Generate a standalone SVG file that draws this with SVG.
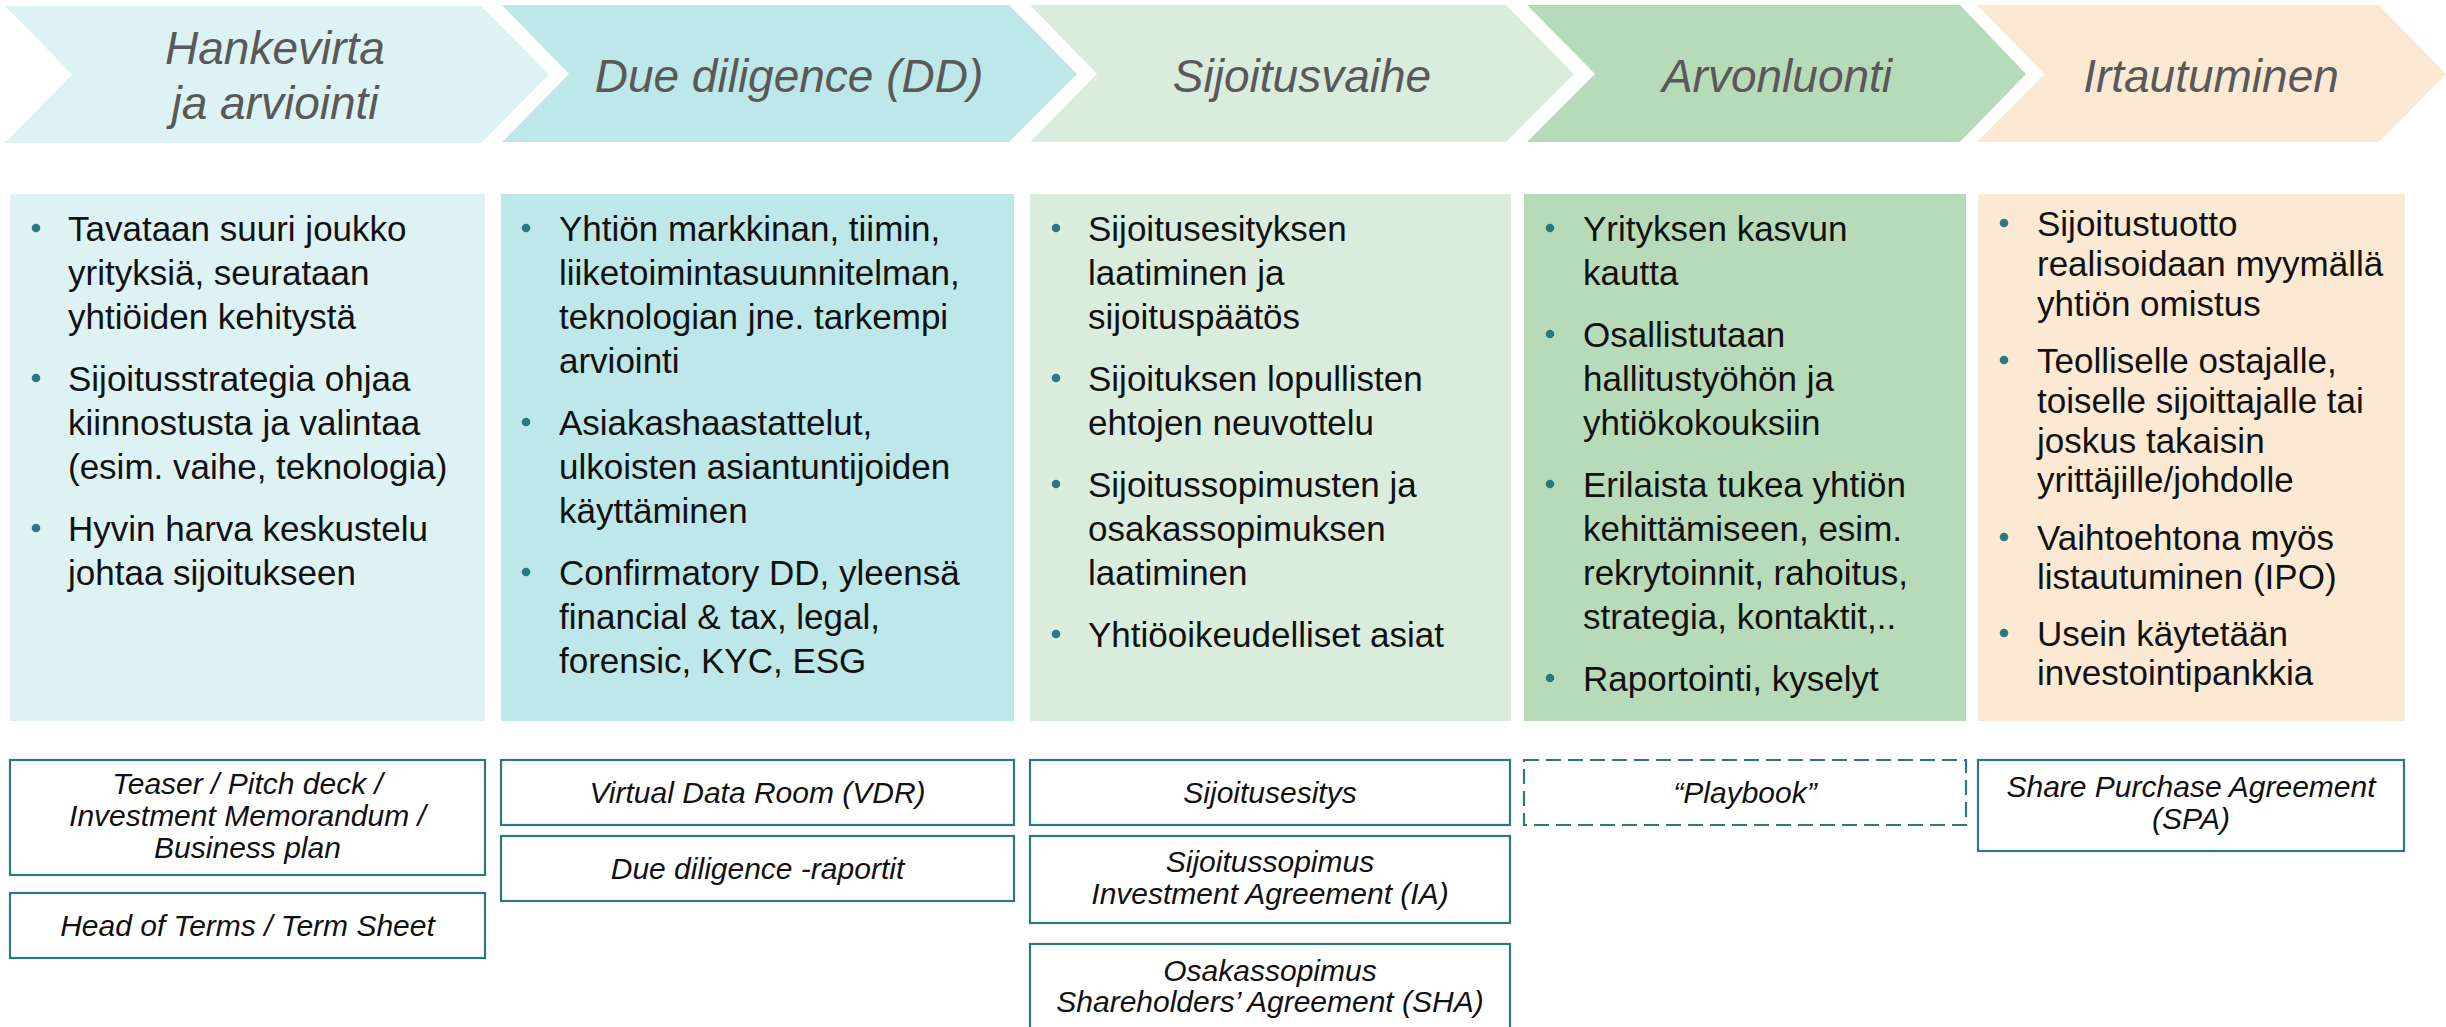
<svg xmlns="http://www.w3.org/2000/svg" width="2446" height="1027" viewBox="0 0 2446 1027">
<style>
.title{font-family:"Liberation Sans",Arial,sans-serif;font-style:italic;font-size:46px;fill:#595959;text-anchor:middle}
.body{font-family:"Liberation Sans",Arial,sans-serif;font-size:35px;fill:#111111}
.doc{font-family:"Liberation Sans",Arial,sans-serif;font-style:italic;font-size:30px;fill:#111111;text-anchor:middle}
.dbox{fill:#ffffff;stroke:#2B7883;stroke-width:2.2}
.dash{stroke-dasharray:15 7}
.dot{fill:#2B7883}
.c1{fill:#DDF2F3}.c2{fill:#BDE7E8}.c3{fill:#DAEDDC}.c4{fill:#B7DBB9}.c5{fill:#FCE9D4}
</style>
<rect x="0" y="0" width="2446" height="1027" fill="#ffffff"/>

<g id="phase1">
<path class="c1" d="M5,6 L481,6 L549,74.5 L481,143 L5,143 L72,74.5 Z"/>
<text class="title"><tspan x="275" y="64">Hankevirta</tspan><tspan x="275" y="119">ja arviointi</tspan></text>
<rect class="c1" x="10" y="194" width="475" height="527"/>
<g class="dot"><circle cx="36" cy="228" r="4.3"/><circle cx="36" cy="378" r="4.3"/><circle cx="36" cy="528" r="4.3"/></g>
<text class="body"><tspan x="68" y="241">Tavataan suuri joukko</tspan><tspan x="68" y="285">yrityksiä, seurataan</tspan><tspan x="68" y="329">yhtiöiden kehitystä</tspan><tspan x="68" y="391">Sijoitusstrategia ohjaa</tspan><tspan x="68" y="435">kiinnostusta ja valintaa</tspan><tspan x="68" y="479">(esim. vaihe, teknologia)</tspan><tspan x="68" y="541">Hyvin harva keskustelu</tspan><tspan x="68" y="585">johtaa sijoitukseen</tspan></text>
</g>

<g id="phase2">
<path class="c2" d="M502,5 L1009,5 L1077,74 L1009,142 L502,142 L569,74 Z"/>
<text class="title" x="789" y="92">Due diligence (DD)</text>
<rect class="c2" x="501" y="194" width="513" height="527"/>
<g class="dot"><circle cx="526" cy="228" r="4.3"/><circle cx="526" cy="422" r="4.3"/><circle cx="526" cy="572" r="4.3"/></g>
<text class="body"><tspan x="559" y="241">Yhtiön markkinan, tiimin,</tspan><tspan x="559" y="285">liiketoimintasuunnitelman,</tspan><tspan x="559" y="329">teknologian jne. tarkempi</tspan><tspan x="559" y="373">arviointi</tspan><tspan x="559" y="435">Asiakashaastattelut,</tspan><tspan x="559" y="479">ulkoisten asiantuntijoiden</tspan><tspan x="559" y="523">käyttäminen</tspan><tspan x="559" y="585">Confirmatory DD, yleensä</tspan><tspan x="559" y="629">financial &amp; tax, legal,</tspan><tspan x="559" y="673">forensic, KYC, ESG</tspan></text>
</g>

<g id="phase3">
<path class="c3" d="M1030,5 L1506,5 L1574,74 L1506,142 L1030,142 L1097,74 Z"/>
<text class="title" x="1302" y="92">Sijoitusvaihe</text>
<rect class="c3" x="1030" y="194" width="481" height="527"/>
<g class="dot"><circle cx="1056" cy="228" r="4.3"/><circle cx="1056" cy="378" r="4.3"/><circle cx="1056" cy="484" r="4.3"/><circle cx="1056" cy="634" r="4.3"/></g>
<text class="body"><tspan x="1088" y="241">Sijoitusesityksen</tspan><tspan x="1088" y="285">laatiminen ja</tspan><tspan x="1088" y="329">sijoituspäätös</tspan><tspan x="1088" y="391">Sijoituksen lopullisten</tspan><tspan x="1088" y="435">ehtojen neuvottelu</tspan><tspan x="1088" y="497">Sijoitussopimusten ja</tspan><tspan x="1088" y="541">osakassopimuksen</tspan><tspan x="1088" y="585">laatiminen</tspan><tspan x="1088" y="647">Yhtiöoikeudelliset asiat</tspan></text>
</g>

<g id="phase4">
<path class="c4" d="M1527,5 L1960,5 L2026,74 L1960,142 L1527,142 L1595,74 Z"/>
<text class="title" x="1777" y="92">Arvonluonti</text>
<rect class="c4" x="1524" y="194" width="442" height="527"/>
<g class="dot"><circle cx="1550" cy="228" r="4.3"/><circle cx="1550" cy="334" r="4.3"/><circle cx="1550" cy="484" r="4.3"/><circle cx="1550" cy="678" r="4.3"/></g>
<text class="body"><tspan x="1583" y="241">Yrityksen kasvun</tspan><tspan x="1583" y="285">kautta</tspan><tspan x="1583" y="347">Osallistutaan</tspan><tspan x="1583" y="391">hallitustyöhön ja</tspan><tspan x="1583" y="435">yhtiökokouksiin</tspan><tspan x="1583" y="497">Erilaista tukea yhtiön</tspan><tspan x="1583" y="541">kehittämiseen, esim.</tspan><tspan x="1583" y="585">rekrytoinnit, rahoitus,</tspan><tspan x="1583" y="629">strategia, kontaktit,..</tspan><tspan x="1583" y="691">Raportointi, kyselyt</tspan></text>
</g>

<g id="phase5">
<path class="c5" d="M1977,5 L2379,5 L2446,74 L2379,142 L1977,142 L2044,74 Z"/>
<text class="title" x="2211" y="92">Irtautuminen</text>
<rect class="c5" x="1978" y="194" width="427" height="527"/>
<g class="dot"><circle cx="2004" cy="223" r="4.3"/><circle cx="2004" cy="360" r="4.3"/><circle cx="2004" cy="537" r="4.3"/><circle cx="2004" cy="633" r="4.3"/></g>
<text class="body"><tspan x="2037" y="236">Sijoitustuotto</tspan><tspan x="2037" y="276">realisoidaan myymällä</tspan><tspan x="2037" y="316">yhtiön omistus</tspan><tspan x="2037" y="373">Teolliselle ostajalle,</tspan><tspan x="2037" y="413">toiselle sijoittajalle tai</tspan><tspan x="2037" y="453">joskus takaisin</tspan><tspan x="2037" y="492">yrittäjille/johdolle</tspan><tspan x="2037" y="550">Vaihtoehtona myös</tspan><tspan x="2037" y="589">listautuminen (IPO)</tspan><tspan x="2037" y="646">Usein käytetään</tspan><tspan x="2037" y="685">investointipankkia</tspan></text>
</g>

<g id="doc-teaser">
<rect class="dbox" x="10" y="760" width="475" height="115"/>
<text class="doc"><tspan x="247.5" y="794">Teaser / Pitch deck /</tspan><tspan x="247.5" y="826">Investment Memorandum /</tspan><tspan x="247.5" y="858">Business plan</tspan></text>
</g>
<g id="doc-terms">
<rect class="dbox" x="10" y="893" width="475" height="65"/>
<text class="doc" x="247.5" y="936">Head of Terms / Term Sheet</text>
</g>
<g id="doc-vdr">
<rect class="dbox" x="501" y="760" width="513" height="65"/>
<text class="doc" x="757.5" y="803">Virtual Data Room (VDR)</text>
</g>
<g id="doc-ddreports">
<rect class="dbox" x="501" y="836" width="513" height="65"/>
<text class="doc" x="757.5" y="879">Due diligence -raportit</text>
</g>
<g id="doc-sijoitusesitys">
<rect class="dbox" x="1030" y="760" width="480" height="65"/>
<text class="doc" x="1270" y="803">Sijoitusesitys</text>
</g>
<g id="doc-ia">
<rect class="dbox" x="1030" y="836" width="480" height="87"/>
<text class="doc"><tspan x="1270" y="872">Sijoitussopimus</tspan><tspan x="1270" y="904">Investment Agreement (IA)</tspan></text>
</g>
<g id="doc-sha">
<rect class="dbox" x="1030" y="944" width="480" height="100"/>
<text class="doc"><tspan x="1270" y="981">Osakassopimus</tspan><tspan x="1270" y="1012">Shareholders’ Agreement (SHA)</tspan></text>
</g>
<g id="doc-playbook">
<rect class="dbox dash" x="1524" y="760" width="442" height="65"/>
<text class="doc" x="1745" y="803">“Playbook”</text>
</g>
<g id="doc-spa">
<rect class="dbox" x="1978" y="760" width="426" height="91"/>
<text class="doc"><tspan x="2191" y="797">Share Purchase Agreement</tspan><tspan x="2191" y="829">(SPA)</tspan></text>
</g>
<g id="connectors"/>
</svg>
